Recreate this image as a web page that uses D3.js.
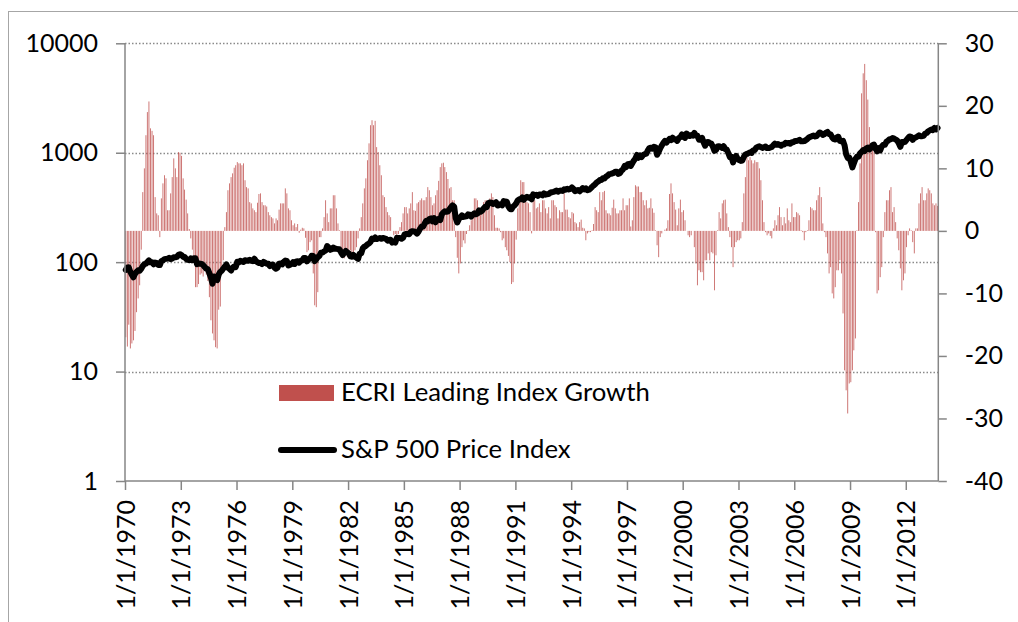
<!DOCTYPE html>
<html>
<head>
<meta charset="utf-8">
<script src="https://cdn.jsdelivr.net/npm/d3@7"></script>
<style>
  html, body { margin: 0; padding: 0; background: #fff; }
  svg { display: block; }
  text { font-family: Lato, "Open Sans", sans-serif; fill: #000; }
</style>
</head>
<body>
<svg id="chart" width="1018" height="622"></svg>
<script>
// ---- DATA ----
const startYear = 1970;
const tickYears = [1970, 1973, 1976, 1979, 1982, 1985, 1988, 1991, 1994, 1997, 2000, 2003, 2006, 2009, 2012];
const leftTicks = [1, 10, 100, 1000, 10000];
const rightTicks = [-40, -30, -20, -10, 0, 10, 20, 30];
const seriesNames = ["ECRI Leading Index Growth", "S&P 500 Price Index"];

// S&P 500 monthly (Jan 1970 - Sep 2013)
const sp500 = [
  85.0, 89.5, 89.6, 81.5, 76.6, 72.7, 78.1, 81.5, 84.2, 83.3, 87.2, 92.2,
  95.9, 96.8, 100.3, 103.9, 99.6, 99.7, 95.6, 99.0, 98.3, 94.2, 94.0, 102.1,
  103.9, 106.6, 107.2, 107.7, 109.5, 107.1, 107.4, 111.1, 110.6, 111.6, 116.7, 118.1,
  116.0, 111.7, 111.5, 107.0, 105.0, 104.3, 108.2, 104.3, 108.4, 108.3, 96.0, 97.6,
  96.6, 96.2, 94.0, 90.3, 87.3, 86.0, 79.3, 72.2, 63.5, 73.9, 70.0, 68.6,
  77.0, 81.6, 83.4, 87.3, 91.2, 95.2, 88.8, 86.9, 83.9, 89.0, 91.2, 90.2,
  100.9, 99.7, 102.8, 101.6, 100.2, 104.3, 103.4, 102.9, 105.2, 102.9, 102.1, 107.5,
  102.0, 99.8, 98.4, 98.4, 96.1, 100.5, 98.9, 96.8, 96.5, 92.3, 94.8, 95.1,
  89.3, 87.0, 89.2, 96.8, 97.2, 95.5, 100.7, 103.3, 102.5, 93.2, 94.7, 96.1,
  99.9, 96.3, 101.6, 101.8, 99.1, 102.9, 103.8, 109.3, 109.3, 101.8, 106.2, 107.9,
  114.2, 113.7, 102.1, 106.3, 111.2, 114.2, 121.7, 122.4, 125.5, 127.5, 140.5, 135.8,
  129.6, 131.3, 136.0, 132.8, 132.6, 131.2, 130.9, 122.8, 116.2, 121.9, 126.4, 122.6,
  120.4, 113.1, 112.0, 116.4, 111.9, 109.6, 107.1, 119.5, 120.4, 133.7, 138.5, 140.6,
  145.3, 148.1, 153.0, 164.4, 162.4, 168.1, 162.6, 164.4, 166.1, 163.6, 166.4, 164.9,
  163.4, 157.1, 159.2, 160.1, 150.6, 153.2, 150.7, 166.7, 166.1, 166.1, 163.6, 167.2,
  179.6, 181.2, 180.7, 179.8, 189.6, 191.9, 190.9, 188.6, 182.1, 189.8, 202.2, 211.3,
  211.8, 226.9, 238.9, 235.5, 247.4, 250.8, 236.1, 252.9, 231.3, 244.0, 249.2, 242.2,
  274.1, 284.2, 291.7, 288.4, 290.1, 304.0, 318.7, 329.8, 321.8, 251.8, 230.3, 247.1,
  257.1, 267.8, 258.9, 261.3, 262.2, 273.5, 272.0, 261.5, 271.9, 279.0, 273.7, 277.7,
  297.5, 288.9, 294.9, 309.6, 320.5, 318.0, 346.1, 351.5, 349.2, 340.4, 346.0, 353.4,
  329.1, 331.9, 339.9, 330.8, 361.2, 358.0, 356.2, 322.6, 306.1, 304.0, 322.2, 330.2,
  343.9, 367.1, 375.2, 375.4, 389.8, 371.2, 387.8, 395.4, 387.9, 392.5, 375.2, 417.1,
  408.8, 412.7, 403.7, 415.0, 415.4, 408.1, 424.2, 414.0, 417.8, 418.7, 431.4, 435.7,
  438.8, 443.4, 451.7, 440.2, 450.2, 450.5, 448.1, 463.6, 458.9, 467.8, 461.8, 466.5,
  481.6, 467.1, 445.8, 450.9, 456.5, 444.3, 458.3, 475.5, 462.7, 472.4, 453.7, 459.3,
  470.4, 487.4, 500.7, 514.7, 533.4, 544.8, 562.1, 561.9, 584.4, 581.5, 605.4, 615.9,
  636.0, 640.4, 645.5, 654.2, 669.1, 670.6, 640.0, 652.0, 687.3, 705.3, 757.0, 740.7,
  786.2, 790.8, 757.1, 801.3, 848.3, 885.1, 954.3, 899.5, 947.3, 914.6, 955.4, 970.4,
  980.3, 1049.3, 1101.8, 1111.8, 1090.8, 1133.8, 1120.7, 957.3, 1017.0, 1098.7, 1163.6, 1229.2,
  1279.6, 1238.3, 1286.4, 1335.2, 1301.8, 1372.7, 1328.7, 1320.4, 1282.7, 1362.9, 1388.9, 1469.3,
  1394.5, 1366.4, 1498.6, 1452.4, 1420.6, 1454.6, 1430.8, 1517.7, 1436.5, 1429.4, 1315.0, 1320.3,
  1366.0, 1239.9, 1160.3, 1249.5, 1255.8, 1224.4, 1211.2, 1133.6, 1040.9, 1059.8, 1139.5, 1148.1,
  1130.2, 1106.7, 1147.4, 1076.9, 1067.1, 989.8, 911.6, 916.1, 815.3, 885.8, 936.3, 879.8,
  855.7, 841.2, 848.2, 916.9, 963.6, 974.5, 990.3, 1008.0, 996.0, 1050.7, 1058.2, 1111.9,
  1131.1, 1144.9, 1126.2, 1107.3, 1120.7, 1140.8, 1101.7, 1104.2, 1114.6, 1130.2, 1173.8, 1211.9,
  1181.3, 1203.6, 1180.6, 1156.9, 1191.5, 1191.3, 1234.2, 1220.3, 1228.8, 1207.0, 1249.5, 1248.3,
  1280.1, 1280.7, 1294.8, 1310.6, 1270.1, 1270.2, 1276.7, 1303.8, 1335.9, 1377.9, 1400.6, 1418.3,
  1438.2, 1406.8, 1420.9, 1482.4, 1530.6, 1503.4, 1455.3, 1474.0, 1526.8, 1549.4, 1481.1, 1468.4,
  1378.6, 1330.6, 1322.7, 1385.6, 1400.4, 1280.0, 1267.4, 1282.8, 1166.4, 968.8, 896.2, 903.3,
  825.9, 735.1, 797.9, 872.8, 919.1, 919.3, 987.5, 1020.6, 1057.1, 1036.2, 1095.6, 1115.1,
  1073.9, 1104.5, 1169.4, 1186.7, 1089.4, 1030.7, 1101.6, 1049.3, 1141.2, 1183.3, 1180.6, 1257.6,
  1286.1, 1327.2, 1325.8, 1363.6, 1345.2, 1320.6, 1292.3, 1218.9, 1131.4, 1253.3, 1247.0, 1257.6,
  1312.4, 1365.7, 1408.5, 1397.9, 1310.3, 1362.2, 1379.3, 1406.6, 1440.7, 1412.2, 1416.2, 1426.2,
  1498.1, 1514.7, 1569.2, 1597.6, 1630.7, 1606.3, 1685.7, 1633.0, 1681.6
];

// ECRI Leading Index growth, % (Jan 1970 - Sep 2013)
const ecri = [
  -17, -18.5, -15, -18.8, -18, -17.5, -16, -13, -10.8, -8.7, -3, 6.2,
  10, 15.3, 19, 20.7, 16.4, 16, 15.3, 5.4, 2.8, 2.5, -1, 5.2,
  7.6, 8.9, 8.4, 3.3, 3.3, 6, 8.6, 11.6, 10, 8.6, 12.6, 12.5,
  12, 8.4, 6.6, 5, 2.8, 0.3, -1.2, -3, -4.7, -9, -9, -8.5,
  -7, -6.8, -7.3, -6, -7, -8, -10.6, -14.3, -16.4, -17.5, -18.6, -18.8,
  -12.6, -12.1, -5.6, -4.7, 0.6, 3, 6.5, 7.6, 8.6, 9.2, 10.1, 10.5,
  11, 10.8, 10.8, 10.5, 10.8, 8.1, 7, 6.8, 4.6, 4.4, 3.6, 3.3,
  3, 4.5, 5.9, 6, 4.6, 4.1, 4.1, 3.9, 3, 2.5, 2.2, 2,
  1.2, 2, 1.7, 3.4, 4.4, 4.4, 4.4, 6.8, 6, 3.6, 3.3, 1.7,
  0.9, 1.2, 0.6, 1.1, -0.3, 0.2, 0.5, 0.4, -1.1, -3.4, -3.1, -1.8,
  -1.5, -6.8, -11.9, -12.2, -9.8, -1, -1, 0.4, 2.2, 4.9, 2.8, 1.4,
  3.6, 3.6, 5.7, 5.7, 3.6, 1.2, 0.1, -2.6, -3.6, -4.4, -3.1, -4.2,
  -3.6, -3.1, -4.2, -3.8, -3.1, -2.6, -1.2, 0.4, 2.2, 4.4, 6.8, 8.4,
  11.3, 14, 16.9, 17.7, 16.9, 17.6, 13.4, 12.6, 10.5, 8.9, 5.7, 5.4,
  3.8, 3, 2.5, 2.2, 0, -0.7, -0.5, -0.7, -0.5, 0.6, 1.4, 2.8,
  3.8, 3.8, 2.8, 3.6, 4.4, 6.2, 3.3, 3.2, 4.4, 4.6, 4.9, 5.2,
  4.9, 4.9, 5.4, 7, 6.5, 5.4, 4.1, 4.4, 5.7, 6.5, 8, 10.2,
  10.8, 10.9, 10.2, 9.4, 8.3, 6.8, 7, 4.9, 4.9, -1, -4.3, -6.8,
  -5.2, -2.6, -1.5, -2, -0.5, 0.1, 0.9, 1.7, 3, 5.2, 5.2, 4.9,
  3.3, 2.8, 3.6, 4.6, 4.9, 4.9, 3.3, 5.2, 6, 5.4, 2.5, 0.5,
  0.5, 0.4, -0.2, -1.5, -1.2, -2.6, -3.1, -4, -5, -8.5, -8.2, -5.2,
  -1.4, 3.6, 4.4, 8.1, 7.8, 7.8, 4.6, 4.6, 4.4, 3, -0.4, 5.2,
  4.9, 3.6, 3.8, 4.4, 3, 4.9, 4.9, 3.6, 2.8, 3.8, 2, 4.9,
  4.9, 4.1, 3.8, 2, 3.3, 3, 3, 6, 3.4, 3.4, 2.2, 2,
  3, 2.8, 1.4, 1.2, 0.6, 1.4, 1.8, 0.5, 0.4, -1.5, -0.4, -0.2,
  -0.2, 0.1, 1.1, 3.8, 3.3, 3, 6.2, 4.9, 6.2, 6.4, 3.3, 2.8,
  2.8, 2.5, 3.7, 5, 3.6, 2.8, 2.8, 3.3, 3.3, 5.2, 3.3, 4.1,
  4.1, 5.2, 0.7, 1.7, 5.4, 7.3, 7.1, 7.1, 6.2, 6.2, 4.9, 4.1,
  4.9, 3.6, 3.7, 5.2, 3.6, 2.9, 0.1, -2.3, -4.2, -1, -0.4, 0,
  0.2, 0.4, 1.7, 5.9, 7.6, 6, 4.6, 3.4, 0.9, 3.6, 5, 3,
  3.3, 1.7, 0, -0.7, -1, -0.7, 0, -2.6, -5.2, -8.7, -6.3, -6.6,
  -6.6, -7.9, -4.7, -4.7, -3.6, -4.7, -3.4, -3.6, -9.5, -3.9, 0.1, 3,
  2, 4.4, 4.9, 5, 2.8, 0.6, -1, -2.6, -5.8, -2.6, -1.8, -1.5,
  -1.5, -1.2, 1.4, 6, 8.6, 11.8, 11.3, 11.8, 11.3, 10.8, 11.3, 11,
  11, 10, 8.1, 4.9, 1.4, -0.2, -0.7, -0.4, -0.8, -1.2, 0.4, 1.7,
  0.9, 2.5, 3.8, 2.2, 0.9, 2.2, 1.2, 3.6, 1.7, 1.4, 4.4, 2.2,
  2.2, 3, 2.8, 2.5, 0.1, -0.2, -1.5, -0.2, 0.1, 1.7, 3.8, 3.6,
  3.3, 3.3, 4.9, 5.7, 7, 5.4, 1.2, -0.2, -1, -3.6, -6.8, -5.8,
  -10, -10.8, -9, -6.3, -6.3, -4.7, -6.8, -13.2, -22.3, -25.5, -29.2, -24.4,
  -24.2, -22.3, -19.1, -17.2, 0.1, 4.6, 10.8, 22, 25.2, 26.7, 24.1, 21,
  16.6, 12.9, 12.9, 12.6, -0.2, -10, -9.5, -7.4, -5.8, -1, 3, 4.9,
  4.9, 6.5, 7, 3, 3.8, 1.4, -1.2, -3.1, -6, -9.5, -7.9, -6.8,
  -2.6, -0.7, 0.4, 0.1, -1.8, -3.6, 0.4, 0.4, 4.4, 6, 7, 4.9,
  4.9, 6, 6.8, 6.5, 6, 4.4, 4.1, 4.4, 4
];

// ---- CHART ----
const svg = d3.select("#chart");
const W = 1018, H = 622;
const plot = { left: 125, right: 938.3, top: 43.3, bottom: 481 };

const dates = sp500.map((d, i) => new Date(startYear, i, 1));
const x = d3.scaleTime()
  .domain([new Date(1970, 0, 1), new Date(2013, 9, 1)])
  .range([plot.left, plot.right]);
const yL = d3.scaleLog().domain([1, 10000]).range([plot.bottom, plot.top]);
const yR = d3.scaleLinear().domain([-40, 30]).range([plot.bottom, plot.top]);

const monthW = (plot.right - plot.left) / 525;
const fmt = d => String(d);

// outer frame
svg.append("rect")
  .attr("x", 8.5).attr("y", 11.5)
  .attr("width", W + 20).attr("height", H + 20)
  .attr("fill", "none").attr("stroke", "#a6a6a6").attr("stroke-width", 1);

// gridlines (left axis decades)
svg.append("g").selectAll("line")
  .data(leftTicks.filter(d => d > 1))
  .join("line")
  .attr("x1", plot.left).attr("x2", plot.right)
  .attr("y1", d => Math.round(yL(d)) + 0.5).attr("y2", d => Math.round(yL(d)) + 0.5)
  .attr("stroke", "#8a8a8a").attr("stroke-width", 1.3)
  .attr("stroke-dasharray", "1.5,2");

// bars
svg.append("g").selectAll("rect")
  .data(ecri)
  .join("rect")
  .attr("x", (d, i) => x(dates[i]) + monthW / 2 - 0.45)
  .attr("width", 0.9)
  .attr("y", d => Math.min(yR(d), yR(0)))
  .attr("height", d => Math.abs(yR(d) - yR(0)))
  .attr("fill", "#c0504d")
  .attr("fill-opacity", 0.85);

// line
const line = d3.line()
  .x((d, i) => x(dates[i]) + monthW / 2)
  .y(d => yL(d));
svg.append("path")
  .datum(sp500)
  .attr("d", line)
  .attr("fill", "none")
  .attr("stroke", "#000")
  .attr("stroke-width", 6)
  .attr("stroke-linejoin", "round")
  .attr("stroke-linecap", "round");

// axes
const axisColor = "#868686";
const leftAxis = svg.append("g").attr("transform", `translate(${plot.left},0)`)
  .call(d3.axisLeft(yL).tickValues(leftTicks).tickFormat(fmt).tickSizeOuter(0).tickSize(9).tickPadding(18));
const rightAxis = svg.append("g").attr("transform", `translate(${plot.right},0)`)
  .call(d3.axisRight(yR).tickValues(rightTicks).tickFormat(fmt).tickSizeOuter(0).tickSize(8.5).tickPadding(18));
const xAxis = svg.append("g").attr("transform", `translate(0,${plot.bottom})`)
  .call(d3.axisBottom(x).tickValues(tickYears.map(y => new Date(y, 0, 1)))
    .tickFormat(d => `1/1/${d.getFullYear()}`).tickSizeOuter(0).tickSize(9));

[leftAxis, rightAxis, xAxis].forEach(g => {
  g.select(".domain").attr("stroke", axisColor).attr("stroke-width", 1.5);
  g.selectAll(".tick line").attr("stroke", axisColor).attr("stroke-width", 1.5);
  g.selectAll(".tick text").style("font-family", "Lato, 'Open Sans', sans-serif")
    .style("font-size", "25px").attr("fill", "#000");
});
leftAxis.select(".domain").attr("d", `M0,${plot.top}V${plot.bottom}`);
rightAxis.select(".domain").attr("d", `M0,${plot.top}V${plot.bottom}`);
xAxis.select(".domain").attr("d", `M${plot.left},0H${plot.right}`);

xAxis.selectAll(".tick text")
  .attr("transform", "rotate(-90)")
  .attr("text-anchor", "end")
  .attr("x", -19)
  .attr("y", 0)
  .attr("dy", "0.36em");

// legend
const lg = svg.append("g");
lg.append("rect").attr("x", 279).attr("y", 385).attr("width", 55).attr("height", 16).attr("fill", "#c0504d");
lg.append("text").attr("x", 341).attr("y", 401).style("font-size", "25.7px").text(seriesNames[0]);
lg.append("line").attr("x1", 281).attr("x2", 334).attr("y1", 450).attr("y2", 450)
  .attr("stroke", "#000").attr("stroke-width", 6).attr("stroke-linecap", "round");
lg.append("text").attr("x", 341).attr("y", 458).style("font-size", "25.7px").text(seriesNames[1]);
</script>
</body>
</html>
